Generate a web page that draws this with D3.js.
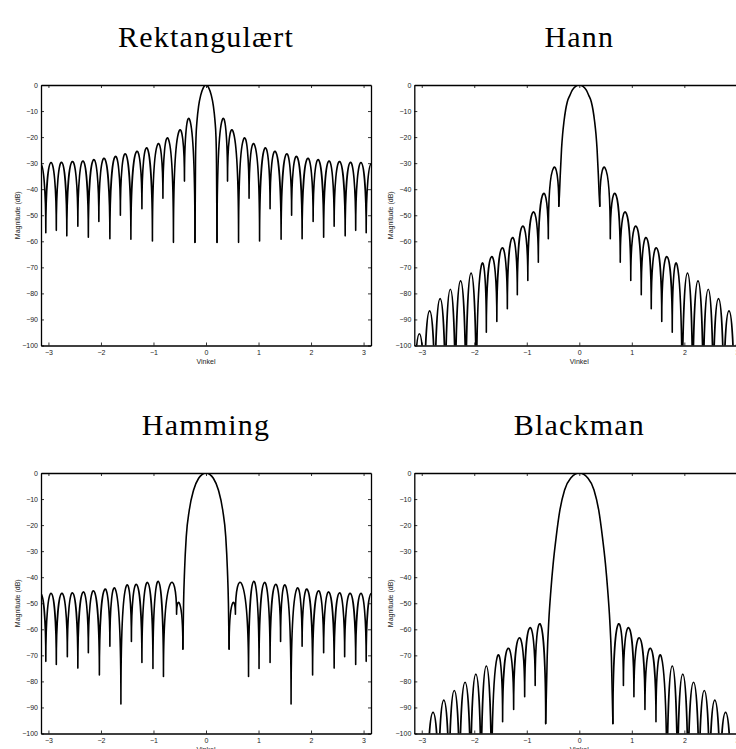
<!DOCTYPE html>
<html>
<head>
<meta charset="utf-8">
<script src="https://cdn.jsdelivr.net/npm/d3@7"></script>
<style>
body { margin: 0; background: #fff; }
</style>
</head>
<body>
<script>
// values, positive side only (the spectra are symmetric about 0)
let titles = ["Rektangulært", "Hann", "Hamming", "Blackman"];
let xTicks = [-3, -2, -1, 0, 1, 2, 3];
let yTicks = [0, -10, -20, -30, -40, -50, -60, -70, -80, -90, -100];

// main lobe: [angle, dB]
let rectMain = [[0, 0], [0.05, -1], [0.1, -3.9], [0.14, -8], [0.17, -13.5], [0.19, -20], [0.2, -30], [0.21, -60.4]];
let hannMain = [[0, 0], [0.07, -0.5], [0.134, -2], [0.18, -4], [0.229, -6.5], [0.26, -9.5], [0.293, -14.2], [0.318, -19], [0.338, -24.5], [0.363, -34.7], [0.378, -42], [0.39, -46.5]];
let hammMain = [[0, 0], [0.07, -0.5], [0.14, -2], [0.236, -6.5], [0.318, -14.2], [0.376, -24.5], [0.408, -37.3], [0.427, -50], [0.44, -67.6]];
let blackMain = [[0, 0], [0.166, -2], [0.28, -6.5], [0.369, -14.2], [0.44, -24.5], [0.497, -34.7], [0.541, -45], [0.58, -56.5], [0.611, -70.5], [0.64, -96.2]];

// side lobes: null positions, null depths, and the peak of each lobe between two nulls
let rectNullX = [0.21, 0.41, 0.62, 0.82, 1.02, 1.22, 1.43, 1.63, 1.83, 2.04, 2.24, 2.44, 2.65, 2.85, 3.05, 3.25];
let rectNullDb = [-60.4, -36.9, -60.4, -43.5, -59.9, -47.5, -59.2, -50, -59, -52.4, -58.4, -54.2, -57.9, -55.8, -56.7, -57];
let rectPeakDb = [-13.3, -17.8, -20.6, -22.8, -24.3, -25.6, -26.5, -27.5, -28.2, -28.7, -29.2, -29.4, -29.7, -29.8, -30.2];

let hannNullX = [0.39, 0.59, 0.78, 0.98, 1.18, 1.37, 1.57, 1.77, 1.96, 2.16, 2.36, 2.55, 2.75, 2.95, 3.14];
let hannNullDb = [-46.5, -59, -68, -75, -80.5, -85.9, -90.8, -94.9, -130, -130, -130, -130, -130, -130, -130];
let hannPeakDb = [-31.8, -41.7, -48.8, -54.2, -58.6, -62.5, -65.9, -69.3, -72.2, -75.2, -78.4, -82, -86.7, -95.5];

let hammNullX = [0.44, 0.56, 0.81, 1.01, 1.22, 1.42, 1.62, 1.83, 2.03, 2.24, 2.44, 2.64, 2.85, 3.05, 3.25];
let hammNullDb = [-67.6, -54.2, -78.1, -75, -72.7, -64.7, -88.7, -66.5, -77.5, -69, -74.9, -70.5, -73.5, -72.3, -72];
let hammPeakDb = [-50.3, -42.8, -41.6, -42, -42.8, -43.5, -44.6, -44.7, -45.3, -45.7, -46, -46.2, -46.2, -46.2];

let blackNullX = [0.64, 0.84, 1.04, 1.25, 1.46, 1.67, 1.87, 2.07, 2.28, 2.48, 2.68, 2.89, 3.1, 3.3];
let blackNullDb = [-96.2, -81.6, -85.9, -90.8, -95.5, -130, -130, -130, -130, -130, -130, -130, -130, -130];
let blackPeakDb = [-58.1, -59.4, -63.3, -67.3, -70.8, -74.1, -77.2, -80.3, -83.5, -87.2, -91.9, -105, -110];

let width = 736;
let height = 749;
let w = 330;
let h = 260.5;

let panels = [
  { x0: 41, y0: 85, main: rectMain, nx: rectNullX, nd: rectNullDb, pk: rectPeakDb },
  { x0: 414.3, y0: 85, main: hannMain, nx: hannNullX, nd: hannNullDb, pk: hannPeakDb },
  { x0: 41, y0: 473, main: hammMain, nx: hammNullX, nd: hammNullDb, pk: hammPeakDb },
  { x0: 414.3, y0: 473, main: blackMain, nx: blackNullX, nd: blackNullDb, pk: blackPeakDb }
];

let svg = d3.select("body").append("svg").attr("width", width).attr("height", height);

let sans = "Liberation Sans, Arial, Helvetica, sans-serif";

panels.forEach((pn, i) => {
  let x = d3.scaleLinear().domain([-Math.PI, Math.PI]).range([pn.x0, pn.x0 + w]);
  let y = d3.scaleLinear().domain([-100, 0]).range([pn.y0 + h, pn.y0]);

  svg.append("clipPath").attr("id", "clip" + i)
    .append("rect")
    .attr("x", pn.x0).attr("y", pn.y0)
    .attr("width", w).attr("height", h);

  let g = svg.append("g").attr("clip-path", "url(#clip" + i + ")");

  // main lobe, mirrored
  let mainPts = pn.main.slice(1).reverse().map(d => [-d[0], d[1]]).concat(pn.main);
  let line = d3.line().x(d => x(d[0])).y(d => y(d[1])).curve(d3.curveMonotoneX);
  g.append("path")
    .attr("d", line(mainPts))
    .attr("fill", "none")
    .attr("stroke", "#000")
    .attr("stroke-width", 1.6)
    .attr("stroke-linejoin", "round")
    .attr("stroke-linecap", "round");

  // side lobes: one arch per lobe, vertical at the nulls
  let p = d3.path();
  [1, -1].forEach(s => {
    p.moveTo(x(s * pn.nx[0]), y(pn.nd[0]));
    for (let k = 0; k < pn.pk.length; k++) {
      let ya = pn.nd[k];
      let yb = pn.nd[k + 1];
      let c = (8 * pn.pk[k] - ya - yb) / 6;
      p.bezierCurveTo(x(s * pn.nx[k]), y(c), x(s * pn.nx[k + 1]), y(c), x(s * pn.nx[k + 1]), y(yb));
    }
  });
  g.append("path")
    .attr("d", p.toString())
    .attr("fill", "none")
    .attr("stroke", "#000")
    .attr("stroke-width", 1.6)
    .attr("stroke-linejoin", "round")
    .attr("stroke-linecap", "round");

  // axes box with inward ticks
  let fmt = d3.format("d");
  let bottom = svg.append("g").attr("transform", "translate(0," + (pn.y0 + h) + ")")
    .call(d3.axisBottom(x).tickValues(xTicks).tickFormat(fmt).tickSize(-3).tickSizeOuter(0).tickPadding(4.5));
  let top = svg.append("g").attr("transform", "translate(0," + pn.y0 + ")")
    .call(d3.axisTop(x).tickValues(xTicks).tickSize(-3).tickSizeOuter(0).tickFormat(""));
  let left = svg.append("g").attr("transform", "translate(" + pn.x0 + ",0)")
    .call(d3.axisLeft(y).tickValues(yTicks).tickFormat(fmt).tickSize(-3).tickSizeOuter(0).tickPadding(3));
  let right = svg.append("g").attr("transform", "translate(" + (pn.x0 + w) + ",0)")
    .call(d3.axisRight(y).tickValues(yTicks).tickSize(-3).tickSizeOuter(0).tickFormat(""));

  [bottom, top, left, right].forEach(a => {
    a.attr("font-family", sans).attr("font-size", 7);
    a.select(".domain").attr("stroke-width", 1.3);
    a.selectAll(".tick line").attr("stroke-width", 0.8);
    a.selectAll(".tick text").attr("fill", "#222");
  });

  svg.append("text")
    .attr("x", pn.x0 + w / 2)
    .attr("y", pn.y0 + h + 18.5)
    .attr("text-anchor", "middle")
    .attr("font-family", sans)
    .attr("font-size", 7)
    .attr("fill", "#222")
    .text("Vinkel");

  svg.append("text")
    .attr("transform", "translate(" + (pn.x0 - 21) + "," + (pn.y0 + h / 2) + ") rotate(-90)")
    .attr("text-anchor", "middle")
    .attr("font-family", sans)
    .attr("font-size", 7)
    .attr("fill", "#222")
    .text("Magnitude (dB)");

  svg.append("text")
    .attr("x", pn.x0 + w / 2)
    .attr("y", pn.y0 - 38)
    .attr("text-anchor", "middle")
    .attr("font-family", "Liberation Serif, Times New Roman, serif")
    .attr("font-size", 30)
    .attr("letter-spacing", 1.2)
    .attr("fill", "#000")
    .text(titles[i]);
});
</script>
</body>
</html>
